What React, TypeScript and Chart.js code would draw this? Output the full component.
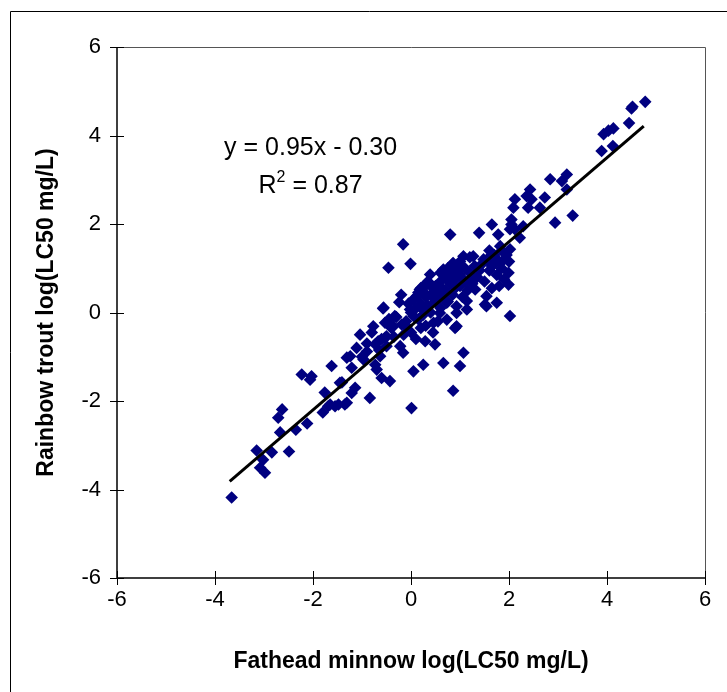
import React, { useEffect, useRef } from "react";
import { Chart, registerables } from "chart.js";

Chart.register(...registerables);

const xTitle = "Fathead minnow log(LC50 mg/L)";
const yTitle = "Rainbow trout log(LC50 mg/L)";
const axisMin = -6;
const axisMax = 6;
const tickStep = 2;

const slope = 0.95;
const intercept = -0.3;
const trendX = [-3.7, 4.75];
const eqText = "y = 0.95x - 0.30";
const r2Text = "0.87";

const fatheadX = [
  -3.66, -3.15, -3.08, -2.98, -3.02, -2.84, -2.49, -2.67, -2.63, -2.71, -2.35, -2.12, -2.23, -2.06, -1.76, -1.8,
  -1.69, -1.55, -1.35, -1.62, -1.41, -1.31, -2.03, -1.65, -1.48, -1.31, -1.04, -0.77, -0.57, -0.24, -0.33, -1.11,
  -1.21, -0.9, -0.67, -0.5, -0.73, -0.7, -0.6, -0.43, -0.84, -1.21, -1.45, -1.14, -1.24, 0.01, 0.05, 0.25,
  0.29, -0.16, -0.22, -0.09, 0.05, 0.18, 0.12, 0.18, 0.32, 0.24, -0.02, -0.19, -0.36, -0.5, -0.63, -0.97,
  -0.16, -0.46, -0.01, -0.56, -0.53, -0.53, -0.73, 0.49, 0.66, 1.07, 1.0, 0.86, 0.93, 0.73, 1.14, 1.54,
  1.75, 2.02, 1.99, 1.99, 1.51, 1.31, 0.8, 1.39, 1.65, 1.78, 2.05, 2.29, 2.02, 1.54, 1.14, 0.39,
  0.32, 0.9, 0.46, 1.07, 0.66, 0.86, 1.27, 1.48, 1.68, 1.82, 0.59, 0.8, 1.0, 1.2, 0.49, 0.73,
  0.93, 0.32, 0.59, 0.93, 3.89, 3.18, 3.08, 2.84, 3.18, 2.73, 2.63, 2.43, 2.36, 2.46, 2.39, 2.12,
  2.09, 2.05, 2.02, 2.12, 2.22, 2.94, 3.3, 4.78, 4.52, 4.5, 4.45, 4.13, 4.03, 3.93, 4.12,
  -0.3, -0.1, 0.0, 0.1, 0.15, 0.2, 0.25, 0.3, 0.35, 0.4, 0.4, 0.45, 0.5, 0.5, 0.55, 0.6,
  0.6, 0.65, 0.7, 0.7, 0.75, 0.8, 0.8, 0.85, 0.9, 0.9, 0.95, 1.0, 1.0, 1.05, 1.1, 1.1,
  1.15, 1.2, 1.25, 1.3, 1.35, 1.4, 1.45, 1.5, 1.55, 1.6, 1.65, 1.7, 1.75, 1.8, 1.85, 1.9,
  0.05, 0.15, -0.05, 0.2, 0.3, 0.45, 0.55, 0.0, -0.15, 0.1, 0.25, 0.6, 0.35, 0.2, -0.2, 0.75,
  0.85, 1.0, 1.2, -0.9, -0.8, -0.6, -0.4, -0.45, -0.65, -1.0, -0.35, 1.6, 1.7, 1.85, 1.9, 1.95,
  2.0, 1.8, 1.65
];

const troutY = [
  -4.18, -3.12, -3.51, -3.62, -3.33, -3.16, -3.14, -2.71, -2.19, -2.38, -2.65, -2.51, -1.4, -1.52, -1.81, -2.26,
  -2.12, -2.12, -2.08, -1.21, -1.58, -1.02, -1.44, -2.08, -2.08, -2.04, -0.5, -0.31, 0.09, 0.23, -0.08, -0.8,
  -1.25, -0.88, -0.65, -0.54, -1.18, -1.29, -1.48, -1.55, -1.93, -1.82, -1.59, -1.7, -0.99, -2.16, -1.33, -1.18,
  -0.65, -0.91, -0.76, -0.31, -0.08, 0.14, 0.37, 0.52, 0.67, 0.48, 0.07, -0.27, -0.31, -0.76, -0.99, -1.06,
  1.54, 1.01, 1.1, 0.11, -0.23, -0.57, -0.72, -0.72, -1.14, -0.91, -1.21, -1.77, -0.31, -0.16, 0.07, 0.37,
  0.22, -0.08, 0.9, 0.63, 0.18, 0.52, 1.76, 1.8, 1.99, 1.76, 1.99, 1.95, 1.43, 0.14, 0.26, 0.86,
  0.63, -0.35, -0.23, 1.27, 0.97, 1.12, 1.27, 1.2, 1.27, 1.5, 0.6, 0.75, 0.82, 0.75, 0.29, 0.22,
  0.14, 0.14, -0.01, -0.01, 3.65, 3.12, 2.97, 3.01, 2.78, 2.6, 2.37, 2.78, 2.63, 2.56, 2.37, 2.56,
  2.37, 2.1, 1.88, 1.88, 1.69, 2.03, 2.19, 4.76, 4.65, 4.61, 4.28, 4.16, 4.11, 4.03, 3.76,
  -0.1, -0.2, 0.0, 0.1, -0.15, 0.2, 0.05, 0.35, 0.15, 0.4, 0.0, 0.55, 0.25, 0.6, 0.45, 0.7,
  0.1, 0.35, 0.8, 0.5, 0.25, 0.65, 0.9, 0.4, 0.75, 0.55, 0.95, 0.6, 0.85, 0.35, 0.7, 1.0,
  0.5, 0.9, 0.65, 1.05, 0.8, 0.95, 1.1, 0.7, 1.2, 0.95, 1.05, 1.3, 0.85, 1.15, 1.4, 1.2,
  0.3, 0.45, 0.2, -0.35, -0.3, -0.45, -0.2, -0.45, -0.5, -0.6, -0.05, 0.9, 0.7, 0.55, 0.4, 1.0,
  1.1, 1.15, 1.25, -0.7, -0.45, -0.6, -0.35, -0.15, -0.85, -1.0, -0.55, 1.4, 1.1, 1.0, 0.75, 1.3,
  1.15, 0.6, 0.55
];

const FONT = '"Liberation Sans", Arial, sans-serif';

export default function App() {
  const ref = useRef<HTMLCanvasElement | null>(null);

  useEffect(() => {
    document.body.style.margin = "0";
    const canvas = ref.current;
    if (!canvas) return;

    const points = fatheadX.map((x, i) => ({ x, y: troutY[i] }));
    const trend = trendX.map((x) => ({ x, y: slope * x + intercept }));

    const decor = {
      id: "decor",
      afterDraw(chart: any) {
        const ctx = chart.ctx;
        const area = chart.chartArea;
        const xs = chart.scales.x;
        const ys = chart.scales.y;
        ctx.save();
        // outer frame
        ctx.strokeStyle = "#000";
        ctx.lineWidth = 1;
        ctx.beginPath();
        ctx.moveTo(10.5, 800);
        ctx.lineTo(10.5, 11.5);
        ctx.lineTo(900, 11.5);
        ctx.stroke();
        // plot frame
        ctx.strokeStyle = "#000";
        ctx.lineWidth = 1.5;
        ctx.beginPath();
        ctx.moveTo(area.left, area.top);
        ctx.lineTo(area.left, area.bottom);
        ctx.lineTo(area.right, area.bottom);
        ctx.stroke();
        ctx.strokeStyle = "#555";
        ctx.lineWidth = 1;
        ctx.beginPath();
        ctx.moveTo(area.left, area.top + 0.5);
        ctx.lineTo(area.right + 0.5, area.top + 0.5);
        ctx.lineTo(area.right + 0.5, area.bottom);
        ctx.stroke();
        // cross tick marks
        ctx.strokeStyle = "#000";
        ctx.lineWidth = 1;
        ctx.beginPath();
        for (let v = axisMin; v <= axisMax; v += tickStep) {
          const px = Math.round(xs.getPixelForValue(v)) + 0.5;
          ctx.moveTo(px, area.bottom - 7);
          ctx.lineTo(px, area.bottom + 7);
          const py = Math.round(ys.getPixelForValue(v)) + 0.5;
          ctx.moveTo(area.left - 7, py);
          ctx.lineTo(area.left + 7, py);
        }
        ctx.stroke();
        // equation
        ctx.fillStyle = "#000";
        ctx.textBaseline = "middle";
        ctx.textAlign = "center";
        ctx.font = "25px " + FONT;
        const cx = xs.getPixelForValue(-2.05);
        ctx.fillText(eqText, cx, ys.getPixelForValue(3.72));
        const ry = ys.getPixelForValue(2.85);
        const p1 = "R";
        const p3 = " = " + r2Text;
        ctx.font = "25px " + FONT;
        const w1 = ctx.measureText(p1).width;
        const w3 = ctx.measureText(p3).width;
        ctx.font = "16px " + FONT;
        const w2 = ctx.measureText("2").width;
        const total = w1 + w2 + w3;
        let sx = cx - total / 2;
        ctx.textAlign = "left";
        ctx.font = "25px " + FONT;
        ctx.fillText(p1, sx, ry);
        sx += w1;
        ctx.font = "16px " + FONT;
        ctx.fillText("2", sx, ry - 9);
        sx += w2;
        ctx.font = "25px " + FONT;
        ctx.fillText(p3, sx, ry);
        ctx.restore();
      },
    };

    const chart = new Chart(canvas, {
      type: "scatter",
      data: {
        datasets: [
          {
            type: "line",
            data: trend,
            borderColor: "#000",
            borderWidth: 3,
            pointRadius: 0,
            fill: false,
          } as any,
          {
            data: points,
            pointStyle: "rectRot",
            pointRadius: 6.3,
            pointHoverRadius: 6.3,
            backgroundColor: "#000080",
            borderColor: "#000080",
            borderWidth: 0,
          },
        ],
      },
      options: {
        responsive: false,
        animation: false,
        devicePixelRatio: 1,
        layout: { padding: { top: 47, right: 22, left: 0, bottom: 0 } },
        plugins: { legend: { display: false }, tooltip: { enabled: false } },
        scales: {
          x: {
            type: "linear",
            min: axisMin,
            max: axisMax,
            afterFit(scale: any) {
              scale.height = 114;
            },
            ticks: { stepSize: tickStep, color: "#000", padding: 9, font: { size: 22, family: FONT } },
            grid: { display: false, drawTicks: false },
            border: { display: false },
            title: {
              display: true,
              text: xTitle,
              color: "#000",
              font: { size: 23, weight: "bold", family: FONT },
              padding: { top: 17, bottom: 17 },
            },
          },
          y: {
            type: "linear",
            min: axisMin,
            max: axisMax,
            afterFit(scale: any) {
              scale.width = 117;
            },
            ticks: { stepSize: tickStep, color: "#000", padding: 16, font: { size: 22, family: FONT } },
            grid: { display: false, drawTicks: false },
            border: { display: false },
            title: {
              display: true,
              text: yTitle,
              color: "#000",
              font: { size: 23, weight: "bold", family: FONT },
              padding: { top: 33, bottom: 33 },
            },
          },
        },
      },
      plugins: [decor],
    });

    return () => chart.destroy();
  }, []);

  return <canvas ref={ref} width={727} height={692} style={{ display: "block" }} />;
}
